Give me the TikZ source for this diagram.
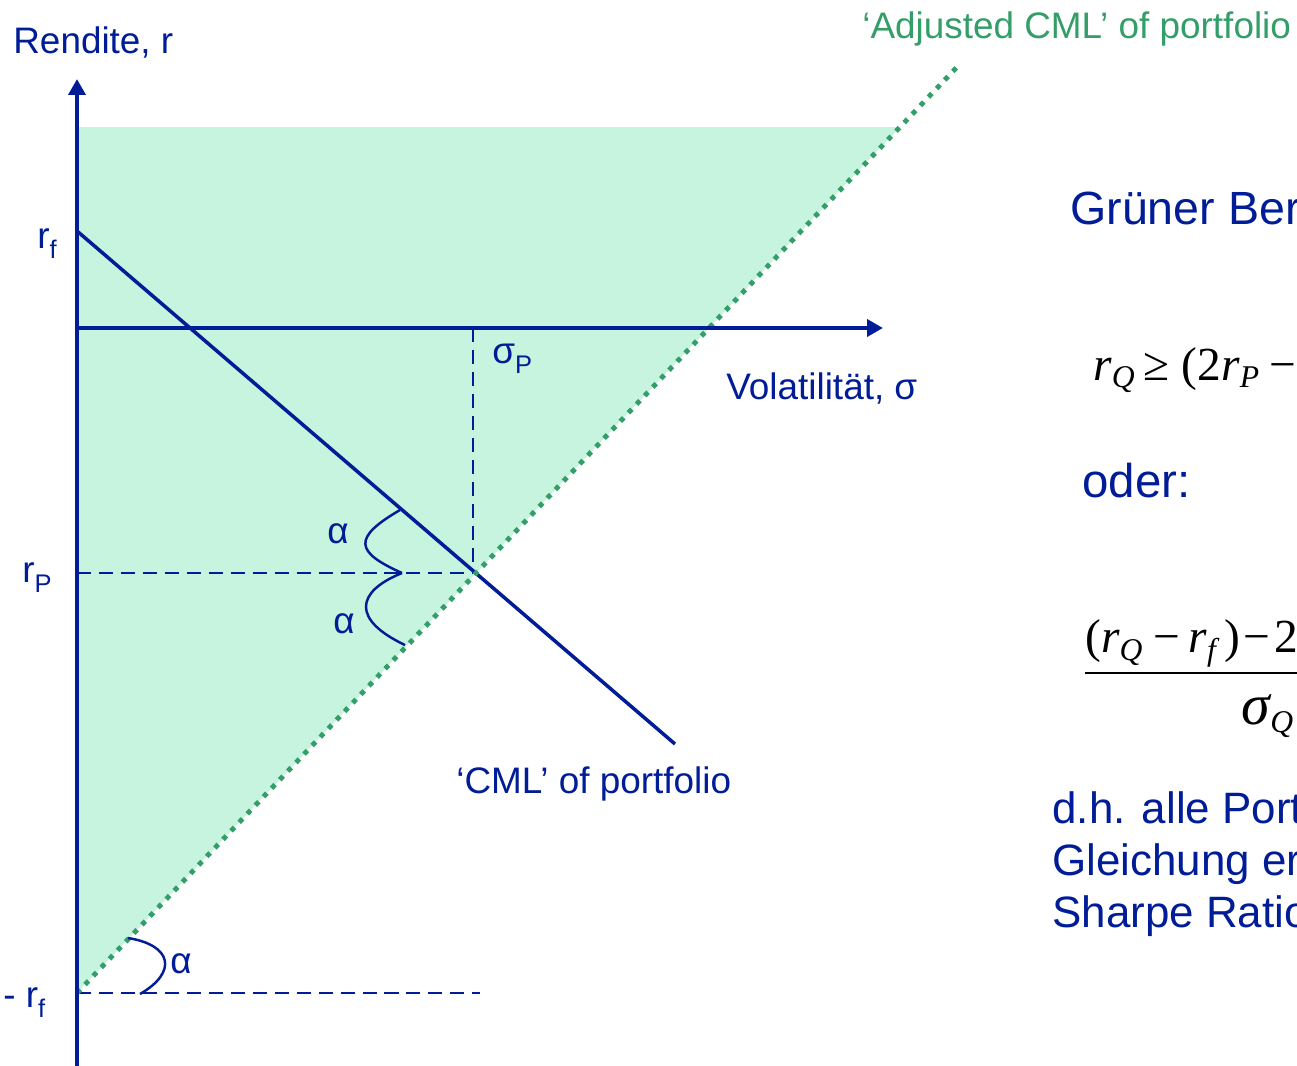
\documentclass[tikz,border=0pt]{standalone}
\usepackage{amsmath}
\usepackage{fontspec}
\setmainfont{Liberation Sans}
\newfontfamily\timesfont{Liberation Serif}
\usetikzlibrary{arrows.meta}
\definecolor{chartblue}{RGB}{0,28,150}
\definecolor{chartgreen}{RGB}{52,158,104}
\definecolor{mint}{RGB}{198,244,222}
\newcommand{\lowsub}[1]{\raisebox{-6pt}{\fontsize{14.5}{14.5}\selectfont #1}}
\newcommand{\isub}[1]{\raisebox{-4.5pt}{\fontsize{18}{18}\selectfont\itshape #1}}
\newcommand{\iv}[1]{{\itshape #1}}

\begin{document}
\begin{tikzpicture}[
    x=0.02cm, y=-0.02cm,
    every node/.style={font=\fontsize{21}{25}\selectfont, text=chartblue, inner sep=0pt, anchor=base west},
    axis/.style={-{Triangle[length=9pt, width=9.5pt]}, line width=2.3pt, chartblue},
    cml/.style={line width=2pt, chartblue},
    guide/.style={line width=1.2pt, chartblue, dash pattern=on 8pt off 4.5pt},
    adjusted/.style={line width=2.8pt, chartgreen, dash pattern=on 2.8pt off 3.9pt},
    bow/.style={line width=1.4pt, chartblue},
    note/.style={font=\fontsize{25}{29.5}\selectfont, align=left},
    formula/.style={font=\timesfont\fontsize{27}{31}\selectfont, text=black}
]
\clip (0,0) rectangle (1297,1065);
\coordinate (origin) at (77,328);
\coordinate (yBottom) at (77,1070);
\coordinate (yTip) at (77,79);
\coordinate (xTip) at (883,328);
\coordinate (rf) at (77,231);
\coordinate (negRf) at (77,993);
\coordinate (P) at (473,573);
\coordinate (rP) at (77,573);
\coordinate (sigmaP) at (473,328);
\coordinate (cmlEnd) at (675,744);
\coordinate (adjEnd) at (958,66);
\coordinate (fillTop) at (900,127);
\coordinate (fillCorner) at (77,127);
\coordinate (floorEnd) at (480,993);
\coordinate (bowTop) at (400,510);
\coordinate (bowMid) at (402,573);
\coordinate (bowLow) at (405,645);
\coordinate (bowFoot) at (128,938);
\coordinate (bowFloor) at (140,994);

\fill[mint] (fillCorner) -- (fillTop) -- (negRf) -- cycle;
\draw[guide] (rP) -- (P);
\draw[guide] (sigmaP) -- (P);
\draw[guide] (negRf) -- (floorEnd);
\draw[cml] (rf) -- (cmlEnd);
\draw[adjusted] (negRf) -- (adjEnd);
\draw[axis] (yBottom) -- (yTip);
\draw[axis] (origin) -- (xTip);
\draw[bow] (bowTop) .. controls (352,538) and (355,552) .. (bowMid);
\draw[bow] (bowMid) .. controls (355,592) and (352,620) .. (bowLow);
\draw[bow] (bowFoot) .. controls (172,945) and (178,972) .. (bowFloor);

\node (yLabel) at (13,53) {Rendite, r};
\node (xLabel) at (726,399) {Volatilität, σ};
\node (rfLabel) at (37,248) {r\lowsub{f}};
\node (rPLabel) at (22,582) {r\lowsub{P}};
\node (negRfLabel) at (3,1007) {- r\lowsub{f}};
\node (sigmaPLabel) at (492,363) {σ\lowsub{P}};
\node (alphaTop) at (327,543) {α};
\node (alphaLow) at (333,633) {α};
\node (alphaFoot) at (170,973) {α};
\node (cmlLabel) at (456,793) {‘CML’ of portfolio};
\node[text=chartgreen] (adjLabel) at (862,38) {‘Adjusted CML’ of portfolio};

\node[font=\fontsize{26.5}{31}\selectfont] (area) at (1070,224) {Grüner Bereich:};
\node[formula] (ineq) at (1093,380) {\iv{r}\isub{Q}\hspace{5pt}≥\hspace{7pt}(2\iv{r}\isub{P}\hspace{6pt}−\hspace{6pt}\iv{r}\isub{f})};
\node[font=\fontsize{27}{32}\selectfont] (oder) at (1082,497) {oder:};
\node[formula] (ratio) at (1083,684) {$\dfrac{\hbox{(\iv{r}\isub{Q}\hspace{6pt}−\hspace{5pt}\iv{r}\isub{f}\hspace{5pt})\hspace{2pt}−\hspace{2pt}2(\iv{r}\isub{P}\hspace{6pt}−\hspace{5pt}\iv{r}\isub{f}\hspace{5pt})}}{\hbox{\raisebox{-6pt}{\fontsize{33}{33}\selectfont\itshape σ\isub{Q}}}}$};
\node[note] (remark) at (1052,927) {d.h. alle Portfolios\\Gleichung erfüllen\\Sharpe Ratio};
\end{tikzpicture}
\end{document}
